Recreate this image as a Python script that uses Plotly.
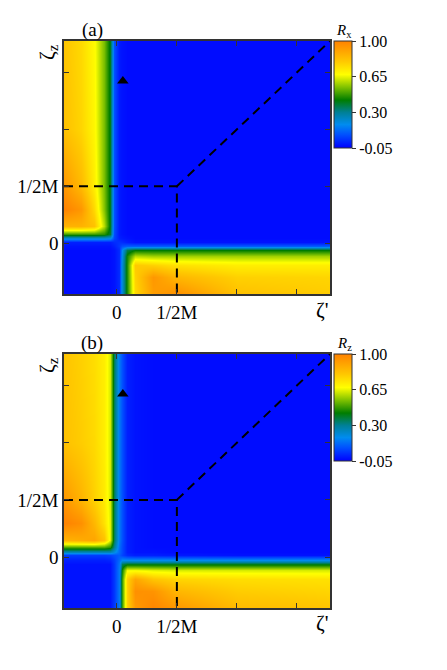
import plotly.graph_objects as go

# the page body adds an 8px margin, so the figure is drawn 8px smaller
OFF = 8
W, H = 447 - OFF, 670 - OFF

# grid nodes, in units where the 1/2M tick sits at 1
zeta_p = [-0.88, -0.6, -0.38, -0.22, -0.12, -0.05, 0.03, 0.09, 0.17, 0.3, 0.6, 1.0, 2.0, 3.55]
zeta_z = [-0.89, -0.6, -0.38, -0.22, -0.12, -0.05, 0.03, 0.09, 0.17, 0.3, 0.6, 1.0, 2.0, 3.55]

# R_x, rows follow zeta_z, columns follow zeta_p
r_x = [
    [-0.03, -0.03, -0.03, -0.03, -0.03, -0.02, 0.02, 0.22, 0.45, 0.76, 0.92, 0.96, 0.82, 0.79],
    [-0.03, -0.03, -0.03, -0.03, -0.03, -0.02, 0.02, 0.22, 0.45, 0.78, 0.94, 0.85, 0.78, 0.77],
    [-0.03, -0.03, -0.03, -0.03, -0.03, -0.02, 0.02, 0.22, 0.45, 0.80, 0.78, 0.74, 0.71, 0.71],
    [-0.03, -0.03, -0.03, -0.03, -0.03, -0.02, 0.02, 0.20, 0.44, 0.60, 0.58, 0.58, 0.58, 0.58],
    [-0.03, -0.03, -0.03, -0.03, -0.03, -0.02, 0.02, 0.18, 0.36, 0.42, 0.42, 0.42, 0.42, 0.42],
    [-0.02, -0.02, -0.02, -0.02, -0.02, 0.00, 0.04, 0.08, 0.10, 0.10, 0.10, 0.10, 0.10, 0.10],
    [0.00, 0.00, 0.00, 0.00, 0.00, 0.02, 0.03, 0.02, 0.00, -0.02, -0.02, -0.02, -0.02, -0.02],
    [0.22, 0.22, 0.22, 0.22, 0.20, 0.06, 0.00, -0.01, -0.02, -0.03, -0.03, -0.03, -0.03, -0.03],
    [0.48, 0.48, 0.48, 0.46, 0.38, 0.07, -0.01, -0.02, -0.03, -0.03, -0.03, -0.03, -0.03, -0.03],
    [0.86, 0.86, 0.82, 0.60, 0.40, 0.08, -0.01, -0.02, -0.03, -0.03, -0.03, -0.03, -0.03, -0.03],
    [1.00, 0.94, 0.76, 0.55, 0.40, 0.08, -0.01, -0.02, -0.03, -0.03, -0.03, -0.03, -0.03, -0.03],
    [0.94, 0.84, 0.71, 0.54, 0.40, 0.08, -0.01, -0.02, -0.03, -0.03, -0.03, -0.03, -0.03, -0.03],
    [0.82, 0.77, 0.69, 0.54, 0.40, 0.08, -0.01, -0.02, -0.03, -0.03, -0.03, -0.03, -0.03, -0.03],
    [0.81, 0.76, 0.68, 0.54, 0.40, 0.08, -0.01, -0.02, -0.03, -0.03, -0.03, -0.03, -0.03, -0.03],
]

# R_z
r_z = [
    [-0.02, -0.02, -0.02, -0.02, -0.02, 0.04, 0.15, 0.48, 0.78, 0.93, 0.99, 0.94, 0.84, 0.81],
    [-0.02, -0.02, -0.02, -0.02, -0.02, 0.04, 0.15, 0.48, 0.78, 0.96, 0.95, 0.85, 0.79, 0.77],
    [-0.02, -0.02, -0.02, -0.02, -0.02, 0.04, 0.15, 0.48, 0.78, 0.90, 0.81, 0.77, 0.75, 0.74],
    [-0.02, -0.02, -0.02, -0.02, -0.02, 0.04, 0.15, 0.44, 0.66, 0.66, 0.64, 0.63, 0.63, 0.63],
    [-0.02, -0.02, -0.02, -0.02, -0.02, 0.04, 0.14, 0.35, 0.40, 0.40, 0.40, 0.40, 0.40, 0.40],
    [0.00, 0.00, 0.00, 0.00, 0.01, 0.05, 0.12, 0.18, 0.18, 0.18, 0.18, 0.18, 0.18, 0.18],
    [0.05, 0.05, 0.05, 0.05, 0.06, 0.08, 0.10, 0.06, 0.02, 0.00, 0.00, -0.01, -0.02, -0.02],
    [0.25, 0.25, 0.25, 0.25, 0.25, 0.20, 0.12, 0.07, 0.00, -0.02, -0.02, -0.03, -0.03, -0.03],
    [0.50, 0.50, 0.50, 0.50, 0.46, 0.30, 0.13, 0.07, 0.00, -0.02, -0.03, -0.03, -0.03, -0.03],
    [0.86, 0.88, 0.90, 0.82, 0.64, 0.35, 0.15, 0.08, 0.00, -0.02, -0.03, -0.03, -0.03, -0.03],
    [1.00, 0.96, 0.85, 0.74, 0.64, 0.35, 0.15, 0.08, 0.00, -0.02, -0.03, -0.03, -0.03, -0.03],
    [0.94, 0.86, 0.78, 0.72, 0.63, 0.35, 0.15, 0.08, 0.00, -0.02, -0.03, -0.03, -0.03, -0.03],
    [0.82, 0.79, 0.76, 0.71, 0.63, 0.35, 0.15, 0.08, 0.00, -0.02, -0.03, -0.03, -0.03, -0.03],
    [0.81, 0.78, 0.75, 0.71, 0.63, 0.35, 0.15, 0.08, 0.00, -0.02, -0.03, -0.03, -0.03, -0.03],
]

tick_vals = [0, 1, 2, 3]
tick_text = ["0", "1/2M", "", ""]
cbar_vals = [-0.05, 0.30, 0.65, 1.00]
cbar_text = ["-0.05", "0.30", "0.65", "1.00"]

half_m = 1.0
marker_p = [0.1]
marker_z = [2.85]

colorscale = [
    [0.0, "rgb(0,0,255)"],
    [0.124, "rgb(0,80,255)"],
    [0.219, "rgb(0,140,240)"],
    [0.333, "rgb(0,128,150)"],
    [0.448, "rgb(0,125,0)"],
    [0.571, "rgb(130,195,0)"],
    [0.686, "rgb(255,255,0)"],
    [0.81, "rgb(255,200,0)"],
    [1.0, "rgb(255,130,0)"],
]

FONT = "Liberation Serif"


def px_x(p):
    return (p - OFF) / W


def px_y(p):
    return 1 - (p - OFF) / H


# panel boxes in reference pixels: (top, bottom)
panels = [
    {"z": r_x, "top": 41, "bottom": 294, "tag": "(a)", "cb": "<i>R</i><sub>x</sub>"},
    {"z": r_z, "top": 354, "bottom": 608, "tag": "(b)", "cb": "<i>R</i><sub>z</sub>"},
]
LEFT, RIGHT = 64, 330

fig = go.Figure()
annotations = []
x_lo, x_hi = zeta_p[0], zeta_p[-1]
y_lo, y_hi = zeta_z[0], zeta_z[-1]

for i, p in enumerate(panels):
    sfx = "" if i == 0 else str(i + 1)
    xa, ya = "x" + sfx, "y" + sfx

    fig.add_trace(go.Heatmap(
        x=zeta_p, y=zeta_z, z=p["z"],
        zmin=-0.05, zmax=1.0, zsmooth="best",
        colorscale=colorscale,
        xaxis=xa, yaxis=ya,
        colorbar={
            "x": px_x(334), "xanchor": "left", "xpad": 0,
            "y": px_y(p["top"]), "yanchor": "top", "ypad": 0,
            "len": 107, "lenmode": "pixels", "thickness": 18,
            "outlinewidth": 1, "outlinecolor": "#333",
            "tickvals": cbar_vals, "ticktext": cbar_text,
            "ticks": "outside", "ticklen": 4, "tickcolor": "#333",
            "tickfont": {"family": FONT, "size": 16, "color": "black"},
        },
        hoverinfo="skip",
    ))

    # dashed guides through (1/2M, 1/2M)
    fig.add_trace(go.Scatter(
        x=[x_lo, half_m, half_m], y=[half_m, half_m, y_lo],
        mode="lines", line={"color": "black", "width": 2, "dash": "9px,6px"},
        xaxis=xa, yaxis=ya, showlegend=False, hoverinfo="skip",
    ))
    fig.add_trace(go.Scatter(
        x=[half_m, x_hi], y=[half_m, y_hi],
        mode="lines", line={"color": "black", "width": 2, "dash": "9px,6px"},
        xaxis=xa, yaxis=ya, showlegend=False, hoverinfo="skip",
    ))
    fig.add_trace(go.Scatter(
        x=marker_p, y=marker_z, mode="markers",
        marker={"symbol": "triangle-up", "size": 10, "color": "black"},
        xaxis=xa, yaxis=ya, showlegend=False, hoverinfo="skip",
    ))

    axis_common = {
        "tickvals": tick_vals, "ticktext": tick_text,
        "ticks": "inside", "ticklen": 5, "tickcolor": "#333",
        "showline": True, "linecolor": "#333", "linewidth": 1.5, "mirror": "ticks",
        "showgrid": False, "zeroline": False,
        "tickfont": {"family": FONT, "size": 19, "color": "black"},
    }
    fig.layout["xaxis" + sfx] = dict(
        axis_common, range=[x_lo, x_hi], anchor=ya,
        domain=[px_x(LEFT), px_x(RIGHT)],
    )
    fig.layout["yaxis" + sfx] = dict(
        axis_common, range=[y_lo, y_hi], anchor=xa,
        domain=[px_y(p["bottom"]), px_y(p["top"])],
    )

    off = p["top"] - 41
    paper = {"xref": "paper", "yref": "paper", "showarrow": False,
             "xanchor": "center", "yanchor": "middle"}
    annotations += [
        dict(paper, text=p["tag"], x=px_x(92), y=px_y(30 + off),
             font={"family": FONT, "size": 19, "color": "black"}),
        dict(paper, text="ζ<sub>z</sub>", x=px_x(48), y=px_y(52 + off), textangle=-90,
             font={"family": FONT, "size": 21, "color": "black"}),
        dict(paper, text="ζ'", x=px_x(322), y=px_y(310 + off),
             font={"family": FONT, "size": 21, "color": "black"}),
        dict(paper, text=p["cb"], x=px_x(344), y=px_y(31 + off),
             font={"family": FONT, "size": 15, "color": "black"}),
    ]

fig.update_layout(
    width=W, height=H,
    margin={"l": 0, "r": 0, "t": 0, "b": 0},
    paper_bgcolor="white", plot_bgcolor="white",
    annotations=annotations,
    showlegend=False,
)

fig.write_html("out.html")
